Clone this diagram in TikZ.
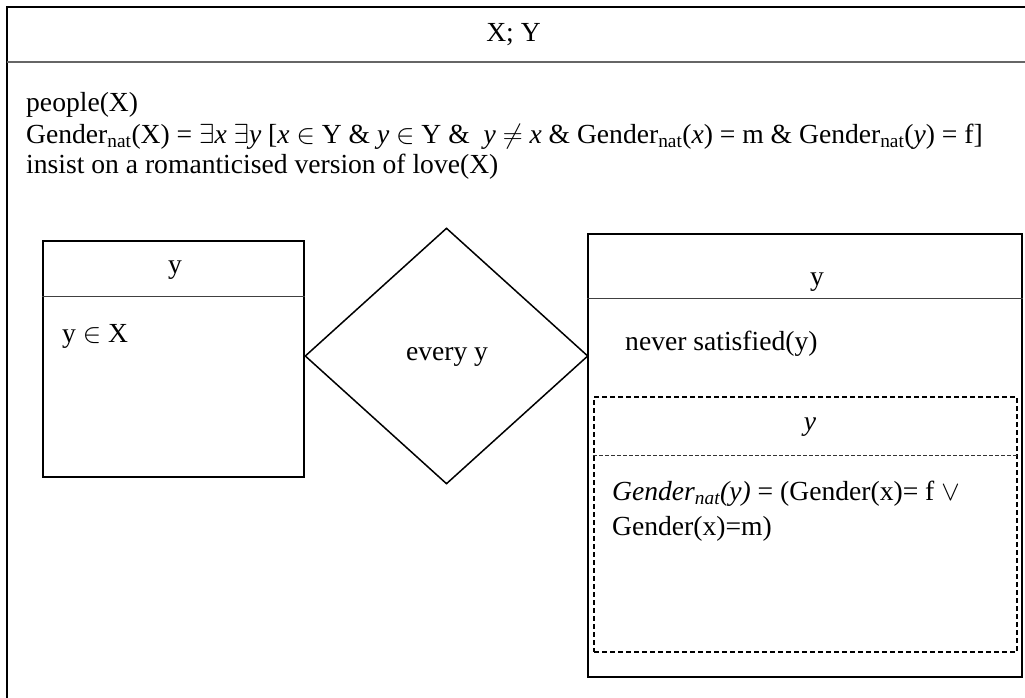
\RequirePackage{fix-cm}
\documentclass[tikz,border=0pt]{standalone}
\usepackage{fontspec}
\setmainfont{Liberation Serif}
\usetikzlibrary{shapes.geometric}
\tikzset{
  txt/.style={inner sep=0pt, font=\fontsize{27.6}{34.5}\selectfont},
  frameline/.style={line width=2pt, black},
  sepgray/.style={line width=1.6pt, black!60},
  boxline/.style={draw, line width=1.5pt, inner sep=0pt},
  thinsep/.style={line width=0.9pt, black!75},
  dashbox/.style={draw, line width=1.3pt, dash pattern=on 5pt off 3pt, inner sep=0pt},
  dashsep/.style={line width=0.8pt, dash pattern=on 4pt off 2pt, black!80},
}
\begin{document}
\begin{tikzpicture}[x=1pt,y=-1pt]
\useasboundingbox (0,0) rectangle (1025,698);
% outer frame
\coordinate (otr) at (1030,7.5);
\coordinate (otl) at (7,7.5);
\coordinate (obl) at (7,705);
\draw[frameline] (otr) -- (otl) -- (obl);
\coordinate (sepl) at (7,62);
\coordinate (sepr) at (1030,62);
\draw[sepgray] (sepl) -- (sepr);
\node[txt, anchor=base] (title) at (513.5,42) {X; Y};
% main text
\node[txt, anchor=base west] (t1) at (26,112) {people(X)};
\node[txt, anchor=base west] (t2) at (26,143) {Gender\textsubscript{nat}(X) = $\exists$\textit{x} $\exists$\textit{y} [\textit{x} $\in$ Y \& \textit{y} $\in$ Y \&\ \ \textit{y} $\neq$ \textit{x} \& Gender\textsubscript{nat}(\textit{x}) = m \& Gender\textsubscript{nat}(\textit{y}) = f]};
\node[txt, anchor=base west] (t3) at (26,173) {insist on a romanticised version of love(X)};
% left box
\node[boxline, minimum width=261pt, minimum height=236pt] (L) at (173.5,359) {};
\draw[thinsep] ([yshift=-56pt]L.north west) -- ([yshift=-56pt]L.north east);
\node[txt, anchor=base] (Lt) at (175,273) {y};
\node[txt, anchor=base west] (Lc) at (62,342) {y $\in$ X};
% diamond
\node[draw, diamond, line width=1.5pt, minimum width=283pt, minimum height=256pt, inner sep=0pt] (D) at (446.5,356) {};
\node[txt, anchor=base] (Dt) at (447,360) {every y};
% right box
\node[boxline, line width=1.8pt, minimum width=434pt, minimum height=443pt] (R) at (805,455.5) {};
\draw[thinsep] ([yshift=-65pt]R.north west) -- ([yshift=-65pt]R.north east);
\node[txt, anchor=base] (Rt) at (817,285) {y};
\node[txt, anchor=base west] (Rc) at (625,350) {never satisfied(y)};
% dashed box
\node[dashbox, minimum width=423pt, minimum height=255pt] (S) at (805.5,524.5) {};
\draw[dashsep] ([yshift=-59pt]S.north west) -- ([yshift=-59pt]S.north east);
\node[txt, anchor=base] (St) at (810,430) {\textit{y}};
\node[txt, anchor=base west] (Sc1) at (612,500) {\textit{Gender\textsubscript{nat}(y)} = (Gender(x)= f $\vee$};
\node[txt, anchor=base west] (Sc2) at (612,535) {Gender(x)=m)};
\end{tikzpicture}
\end{document}
